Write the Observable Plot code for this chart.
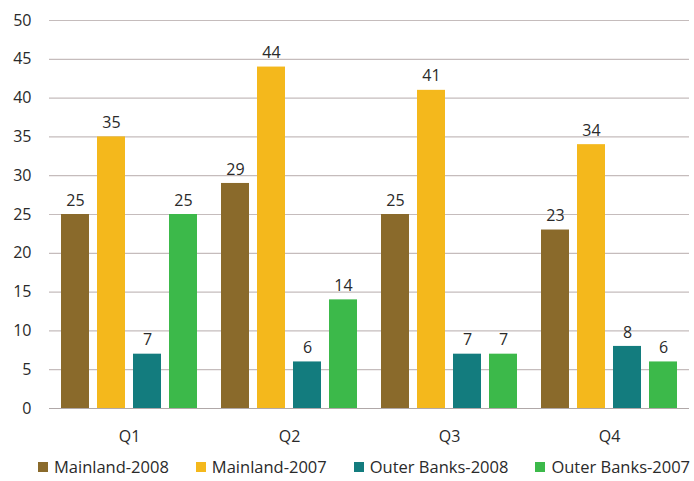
<!DOCTYPE html>
<html>
<head>
<meta charset="utf-8">
<script src="https://cdn.jsdelivr.net/npm/d3@7"></script>
<script src="https://cdn.jsdelivr.net/npm/@observablehq/plot@0.6"></script>
<style>
  body { margin: 0; background: #fff; font-family: "Open Sans", sans-serif; }
  #legend { display: flex; justify-content: center; gap: 27px; font-size: 16.5px; color: #2a2a2a; margin-top: 3px; padding-left: 34px; }
  #legend span.item { display: flex; align-items: center; gap: 6px; }
  #legend span.sw { width: 10px; height: 10px; display: inline-block; }
</style>
</head>
<body>
<div id="chart"></div>
<div id="legend"></div>
<script>
const quarters = ["Q1", "Q2", "Q3", "Q4"];
const seriesNames = ["Mainland-2008", "Mainland-2007", "Outer Banks-2008", "Outer Banks-2007"];
const mainland2008 = [25, 29, 25, 23];
const mainland2007 = [35, 44, 41, 34];
const outerBanks2008 = [7, 6, 7, 8];
const outerBanks2007 = [25, 14, 7, 6];
const colors = ["#8a6a2b", "#f4b81c", "#137c7e", "#3cb94a"];
const yTicks = [0, 5, 10, 15, 20, 25, 30, 35, 40, 45, 50];

const seriesValues = [mainland2008, mainland2007, outerBanks2008, outerBanks2007];
const data = [];
quarters.forEach((q, i) => {
  seriesNames.forEach((s, j) => data.push({quarter: q, series: s, value: seriesValues[j][i]}));
});

const chart = Plot.plot({
  width: 694,
  height: 452,
  marginLeft: 47,
  marginRight: 4,
  marginTop: 20,
  marginBottom: 44,
  style: {fontFamily: "Open Sans, sans-serif", fontSize: "16px", color: "#2a2a2a"},
  fx: {domain: quarters, padding: 0, label: null, axis: "bottom", tickSize: 0, tickPadding: 22},
  x: {domain: seriesNames, axis: null, paddingInner: 0.216, paddingOuter: 0.294},
  y: {domain: [0, 50], ticks: yTicks, label: null, tickSize: 0, tickPadding: 18},
  color: {domain: seriesNames, range: colors},
  marks: [
    Plot.gridY(yTicks, {stroke: "#c5bcbc", strokeOpacity: 1, strokeWidth: 1.2}),
    Plot.barY(data, {fx: "quarter", x: "series", y: "value", fill: "series"}),
    Plot.text(data, {fx: "quarter", x: "series", y: "value", text: "value", dy: -14, fontSize: 16, fill: "#2a2a2a"}),
    Plot.ruleY([0], {stroke: "#b0a8a8", strokeWidth: 1.2})
  ]
});
document.getElementById("chart").appendChild(chart);

const legend = document.getElementById("legend");
seriesNames.forEach((s, i) => {
  const item = document.createElement("span");
  item.className = "item";
  const sw = document.createElement("span");
  sw.className = "sw";
  sw.style.background = colors[i];
  item.appendChild(sw);
  item.appendChild(document.createTextNode(s));
  legend.appendChild(item);
});
</script>
</body>
</html>
